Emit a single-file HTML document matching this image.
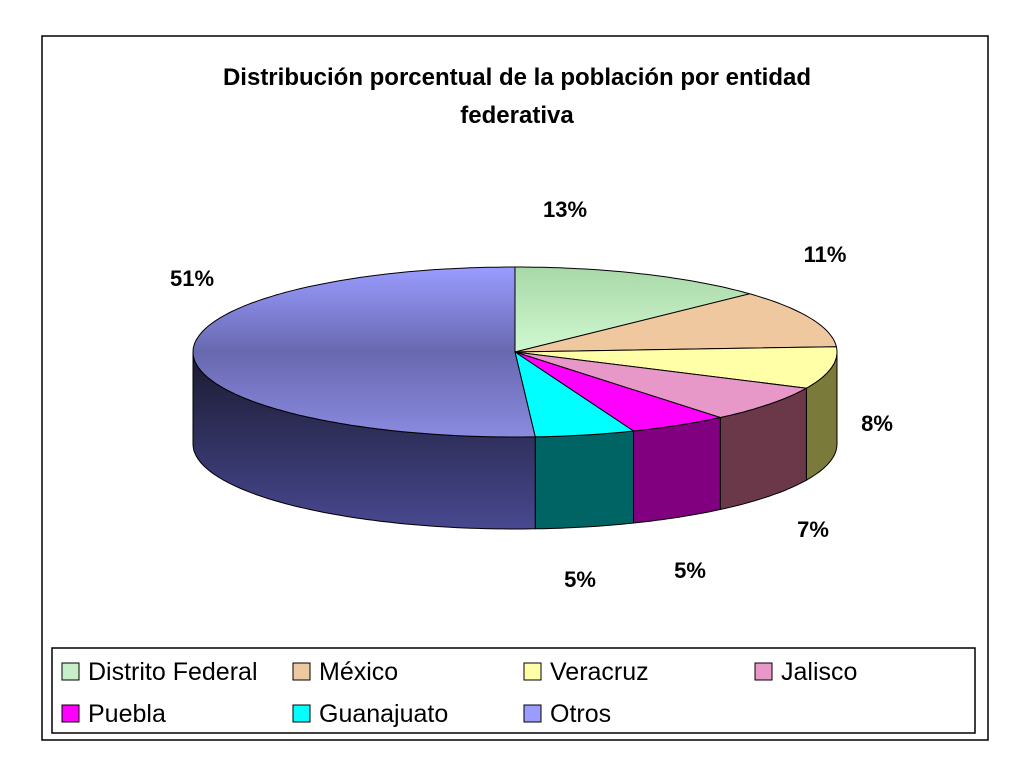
<!DOCTYPE html>
<html><head><meta charset="utf-8"><style>
html,body{margin:0;padding:0;background:#fff;width:1024px;height:768px;overflow:hidden}
svg{display:block;font-family:"Liberation Sans",Arial,sans-serif}
</style></head><body>
<svg id="chart" width="1024" height="768">
<defs>
<linearGradient id="gOtros" x1="0" y1="0" x2="0" y2="1"><stop offset="0" stop-color="#9a9cff"/><stop offset="0.5" stop-color="#6868b0"/><stop offset="1" stop-color="#8a8ae0"/></linearGradient>
<linearGradient id="gOtrosSide" x1="0" y1="0" x2="0" y2="1"><stop offset="0" stop-color="#1a1a30"/><stop offset="1" stop-color="#484890"/></linearGradient>
<linearGradient id="gDF" x1="0" y1="0" x2="0" y2="1"><stop offset="0" stop-color="#a8d8a8"/><stop offset="1" stop-color="#d0f8d0"/></linearGradient>
</defs>
<rect x="42" y="36" width="946" height="704" fill="#fff" stroke="#000" stroke-width="1.5"/>
<text x="517" y="85" text-anchor="middle" font-size="24" font-weight="bold">Distribución porcentual de la población por entidad</text>
<text x="517" y="123" text-anchor="middle" font-size="24" font-weight="bold">federativa</text>
<g id="pie"></g>
<g id="labels"></g>
<rect x="52" y="648" width="923" height="85" fill="#fff" stroke="#000" stroke-width="1.5"/>
<g id="legend"></g>
</svg>
<script>
const categories=["Distrito Federal","México","Veracruz","Jalisco","Puebla","Guanajuato","Otros"];
const values=[13,11,8,7,5,5,51];
const topColors=["url(#gDF)","#f0c8a0","#ffffa8","#e898c8","#ff00ff","#00ffff","url(#gOtros)"];
const sideColors=["#6a8a6a","#8a6a50","#7a7a3a","#6a3848","#800080","#006464","url(#gOtrosSide)"];
const legendColors=["#c8f0c8","#f0c8a0","#ffffa8","#e898c8","#ff00ff","#00ffff","#9a9cff"];
const labelPos=[[565,217],[825,262],[877,431],[813,537],[690,578],[580,587],[192,286]];
const NS="http://www.w3.org/2000/svg";
const cx=515,cy=352,rx=322,ry=85,depth=92;
const pie=document.getElementById('pie');
function pt(t,dy){return [cx+rx*Math.sin(t),cy-ry*Math.cos(t)+(dy||0)];}
function arcPts(a,b,dy){const p=[];const n=Math.max(2,Math.ceil((b-a)/0.02));for(let i=0;i<=n;i++)p.push(pt(a+(b-a)*i/n,dy));return p;}
const total=values.reduce((s,v)=>s+v,0);
let acc=0;const angles=[];
values.forEach(v=>{const a=acc/total*2*Math.PI;acc+=v;angles.push([a,acc/total*2*Math.PI]);});
// sides
angles.forEach(([a,b],i)=>{
  const s=Math.max(a,Math.PI/2),e=Math.min(b,3*Math.PI/2);
  if(e<=s)return;
  const top=arcPts(s,e,0),bot=arcPts(s,e,depth).reverse();
  const p=document.createElementNS(NS,'path');
  p.setAttribute('d','M'+top.concat(bot).map(q=>q[0].toFixed(1)+','+q[1].toFixed(1)).join('L')+'Z');
  p.setAttribute('fill',sideColors[i]);p.setAttribute('stroke','#000');p.setAttribute('stroke-width','1');
  
  
  pie.appendChild(p);
});
// tops
angles.forEach(([a,b],i)=>{
  const pts=arcPts(a,b,0);
  const p=document.createElementNS(NS,'path');
  p.setAttribute('d','M'+cx+','+cy+'L'+pts.map(q=>q[0].toFixed(1)+','+q[1].toFixed(1)).join('L')+'Z');
  p.setAttribute('fill',topColors[i]);p.setAttribute('stroke','#000');p.setAttribute('stroke-width','1');
  
  
  pie.appendChild(p);
});
const lg=document.getElementById('labels');
values.forEach((v,i)=>{
  const t=document.createElementNS(NS,'text');
  t.setAttribute('x',labelPos[i][0]);t.setAttribute('y',labelPos[i][1]);
  t.setAttribute('text-anchor','middle');t.setAttribute('font-size','22');t.setAttribute('font-weight','bold');
  t.textContent=Math.round(v/total*100)+'%';
  
  
  lg.appendChild(t);
});
const leg=document.getElementById('legend');
categories.forEach((c,i)=>{
  const col=i%4,row=Math.floor(i/4);
  const x=62+col*231,y=663+row*42;
  const g=document.createElementNS(NS,'g');
  
  
  const r=document.createElementNS(NS,'rect');
  r.setAttribute('x',x);r.setAttribute('y',y);r.setAttribute('width',17);r.setAttribute('height',17);
  r.setAttribute('fill',legendColors[i]);r.setAttribute('stroke','#000');
  
  
  const t=document.createElementNS(NS,'text');
  t.setAttribute('x',x+26);t.setAttribute('y',y+17);t.setAttribute('font-size','25');
  t.textContent=c;
  
  
  g.appendChild(r);g.appendChild(t);leg.appendChild(g);
});
</script>
</body></html>
